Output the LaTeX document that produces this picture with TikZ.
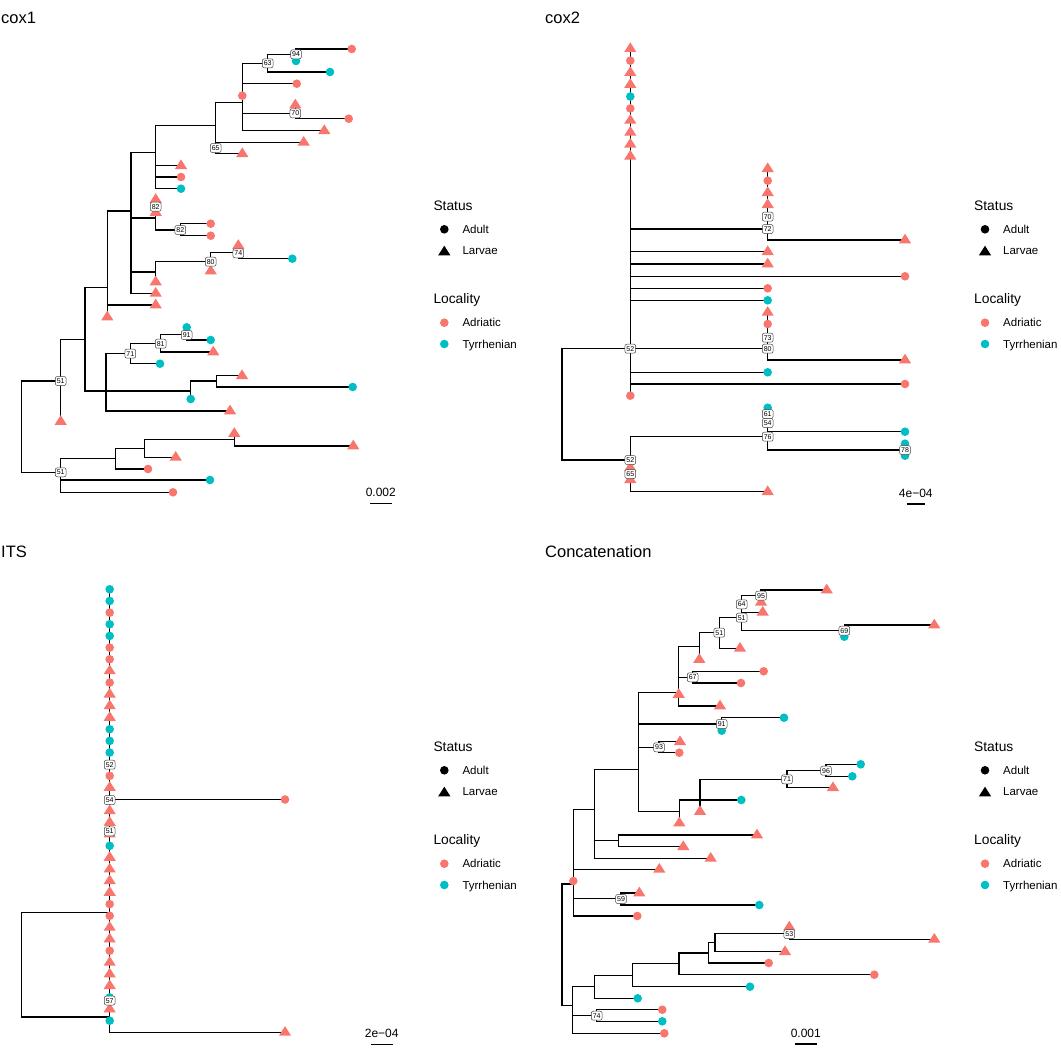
\documentclass[tikz,border=0pt]{standalone}
\usepackage{fontspec}
\setmainfont{Liberation Sans}
\definecolor{adr}{HTML}{F8766D}
\definecolor{tyr}{HTML}{00BFC4}
\newcommand{\adult}[3]{\fill[#1] (#2,#3) circle (4.3pt);}
\newcommand{\larva}[3]{\fill[#1] (#2,#3) ++(0,-6.3) -- ++(6.1,9.6) -- ++(-12.2,0) -- cycle;}
\newcommand{\keybox}[3]{%
 \node[keyttl] (#1st) at (#2,210+#3) {Status};
 \adult{black}{#2+11}{229.3+#3}
 \node[keytxt] (#1ad) at (#2+29,233.4+#3) {Adult};
 \larva{black}{#2+11}{252+#3}
 \node[keytxt] (#1la) at (#2+29,254.8+#3) {Larvae};
 \node[keyttl] (#1lo) at (#2,303.3+#3) {Locality};
 \adult{adr}{#2+11}{322.7+#3}
 \node[keytxt] (#1ar) at (#2+29,326.8+#3) {Adriatic};
 \adult{tyr}{#2+11}{344+#3}
 \node[keytxt] (#1ty) at (#2+29,348.1+#3) {Tyrrhenian};
}

\begin{document}
\begin{tikzpicture}[x=1pt,y=-1pt,
 br/.style={line width=1.25pt,line cap=rect},
 boot/.style={draw=black!75,fill=white,rounded corners=2pt,line width=.5pt,font=\fontsize{7}{8}\selectfont,inner xsep=1.5pt,inner ysep=2pt,text height=5pt,text depth=0pt},
 ttl/.style={anchor=base west,inner sep=0,font=\fontsize{16.5}{18}\selectfont},
 keyttl/.style={anchor=base west,inner sep=0,font=\fontsize{13.8}{15}\selectfont},
 keytxt/.style={anchor=base west,inner sep=0,font=\fontsize{11.5}{13}\selectfont},
 bar/.style={anchor=base,inner sep=0,font=\fontsize{12}{13}\selectfont}]
\useasboundingbox (0,0) rectangle (1061,1049);

\node[ttl] (t1) at (1,24) {cox1};
\node[ttl] (t2) at (545,24) {cox2};
\node[ttl] (t3) at (1,557) {ITS};
\node[ttl] (t4) at (545,557) {Concatenation};

\foreach \x/\a/\b in {296/49/61, 267.7/54.3/72, 242.3/63.3/130.7, 295.3/105/118.7, 215.7/102.7/153.7, 155.7/125.7/188.7, 131/152.7/293.3, 155.7/198.3/230, 180.3/223.7/235.7, 210.7/252.7/270, 238.3/244.3/258.7, 155.7/261.7/281, 107.3/211/316, 85/287.7/391, 106/353.7/411, 130.3/343.3/363.7, 160.7/334.3/352, 186.7/327.3/340, 190.7/381/399, 216.7/375.7/387, 60.7/339.3/420.7, 21.3/381/472.3, 60.7/458.3/492.3, 115.3/448.3/469, 144.3/439.3/457.3, 234.3/432/446}
 \draw[br] (\x,\a) -- (\x,\b);
\foreach \y/\a/\b in {49/296/351.7, 54.3/267.7/296, 72/267.7/330, 63.3/242.3/267.7, 83.7/242.3/296.7, 113.3/242.3/295.3, 118.7/295.3/348.7, 130.7/242.3/324.3, 102.7/215.7/242.3, 142.3/215.7/303.7, 153.7/215.7/242.3, 125.7/155.7/215.7, 165.7/155.7/181, 177/155.7/181, 188.7/155.7/181, 152.7/131/155.7, 218/131/155.7, 230/155.7/180.3, 223.7/180.3/210.7, 235.7/180.3/210.7, 272/131/155.7, 261.7/155.7/210.7, 252.7/210.7/238.3, 258.7/238.3/292.3, 293.3/131/155.7, 211/107.3/131, 305/107.3/155.7, 287.7/85/107.3, 391/85/190.7, 353.7/106/130.3, 343.3/130.3/160.7, 363.7/130.3/160, 334.3/160.7/186.7, 352/160.7/213.3, 340/186.7/210.7, 381/190.7/216.7, 375.7/216.7/242, 387/216.7/352.7, 411/106/230, 339.3/60.7/85, 381/21.3/60.7, 472.3/21.3/60.7, 458.3/60.7/115.3, 480/60.7/210, 492.3/60.7/173, 448.3/115.3/144.3, 469/115.3/148, 439.3/144.3/234.3, 457.3/144.3/175.7, 446/234.3/353.3}
 \draw[br] (\a,\y) -- (\b,\y);
\foreach \x/\y in {351.7/49, 296.7/83.7, 242.3/95.7, 348.7/118.7, 181/177, 210.7/223.7, 210.7/235.7, 148/469, 173/492.3}
 {\adult{adr}{\x}{\y}}
\foreach \x/\y in {296/61, 330/72, 181/188.7, 292.3/258.7, 186.7/327.3, 210.7/340, 160/363.7, 190.7/399, 352.7/387, 210/480}
 {\adult{tyr}{\x}{\y}}
\foreach \x/\y in {295.3/105, 324.3/130.7, 303.7/142.3, 242.3/153.7, 181/165.7, 155.7/199.5, 155.7/212.5, 238.3/245.5, 210.7/271, 155.7/282, 155.7/293.3, 155.7/305, 107.3/317, 213.3/352, 242/375.7, 230/411, 60.7/421.5, 234.3/433.5, 353.3/446, 175.7/457.3}
 {\larva{adr}{\x}{\y}}
\foreach \x/\y/\b [count=\i] in {296/54.3/94, 267.7/63.3/63, 295.3/113.3/70, 215.7/148/65, 155.7/206.7/82, 180.3/230/82, 210.7/261.7/80, 238.3/253.3/74, 186.7/335/91, 160.7/343.7/81, 130.3/353.7/71, 60.7/381/51, 60.7/472.3/51}
 \node[boot] (a\i) at (\x,\y) {\b};
\node[bar] (s1) at (380.8,496.6) {0.002};
\draw[br,line cap=butt] (370,503.3) -- (391.7,503.3);

\foreach \x/\a/\b in {630.3/48.7/395.7, 767.7/168.7/240, 767.7/312.4/360, 562/348.7/460, 630.3/436.7/491.7, 767.7/407.7/450, 905/443.7/455.7}
 \draw[br] (\x,\a) -- (\x,\b);
\foreach \y/\a/\b in {229/630.3/767.7, 240/767.7/905, 251.7/630.3/767.7, 264/630.3/767.7, 276.3/630.3/905, 288.3/630.3/767.7, 300.3/630.3/767.7, 348.7/562/767.7, 360/767.7/905, 372.3/630.3/767.7, 384/630.3/905, 460/562/630.3, 436.7/630.3/767.7, 491.7/630.3/767.7, 431.7/767.7/905, 450/767.7/905}
 \draw[br] (\a,\y) -- (\b,\y);
\foreach \k in {1,5} {\adult{adr}{630.3}{48.7+11.95*\k}}
\foreach \k in {4} {\adult{tyr}{630.3}{48.7+11.95*\k}}
\foreach \k in {0,2,3,6,7,8,9} {\larva{adr}{630.3}{48.7+11.95*\k}}
\foreach \x/\y in {767.7/180.7, 905/276.3, 767.7/288.3, 767.7/324, 905/384, 630.3/395.7}
 {\adult{adr}{\x}{\y}}
\foreach \x/\y in {767.7/300.3, 767.7/372.3, 767.7/407.7, 905/431.7, 905/443.7, 905/455.7}
 {\adult{tyr}{\x}{\y}}
\foreach \x/\y in {767.7/168.7, 767.7/192.7, 767.7/204.7, 905/240, 767.7/251.7, 767.7/264, 767.7/312.4, 905/360, 630.3/467.7, 630.3/479.7, 767.7/491.7}
 {\larva{adr}{\x}{\y}}
\foreach \x/\y/\b [count=\i] in {767.7/216.7/70, 767.7/229/72, 767.7/337.7/73, 767.7/348.7/80, 630.3/348.7/52, 767.7/414/61, 767.7/423/54, 767.7/436.7/76, 905/450/78, 630.3/460/52, 630.3/474/65}
 \node[boot] (b\i) at (\x,\y) {\b};
\node[bar] (s2) at (915.8,497) {4e−04};
\draw[br,line cap=butt] (906.7,504) -- (925,504);

\draw[br] (109.7,589.3) -- (109.7,1032.4);
\draw[br] (21.3,912.3) -- (21.3,1017);
\foreach \y/\a/\b in {799.5/109.7/285, 1032.4/109.7/285, 912.3/21.3/109.7, 1017/21.3/109.7}
 \draw[br] (\a,\y) -- (\b,\y);
\foreach \k in {2,5,6,8,16,27,28,31} {\adult{adr}{109.7}{589.3+11.66*\k}}
\foreach \k in {0,1,3,4,12,13,14,22,35,37} {\adult{tyr}{109.7}{589.3+11.66*\k}}
\foreach \k in {7,9,10,11,17,19,20,21,23,24,25,26,29,30,32,33,34,36} {\larva{adr}{109.7}{589.3+11.66*\k}}
\adult{adr}{285}{799.5}
\larva{adr}{285}{1032.4}
\foreach \x/\y/\b [count=\i] in {109.7/764.7/52, 109.7/800/54, 109.7/831.3/51, 109.7/1000.5/57}
 \node[boot] (c\i) at (\x,\y) {\b};
\node[bar] (s3) at (381.7,1037.6) {2e−04};
\draw[br,line cap=butt] (370.7,1044.3) -- (392.7,1044.3);

\foreach \x/\a/\b in {761/590/602.3, 741.7/595.7/630.7, 844.3/625/636.7, 719.3/617.7/648.3, 699.3/632.7/658.3, 678.7/646.3/706, 692.7/671.3/683, 638.3/692.7/811.7, 721.7/717.7/730.7, 659/741.7/752.7, 787/770.7/787.7, 826/764.3/776.3, 700/779.3/811.5, 679.3/800/823, 594.3/769.3/858.3, 618.3/835/846.7, 573.3/809.3/916, 621/893/905, 562/884/1005.7, 572.3/986.7/1033.3, 596.7/1009.7/1021.3, 594.3/975.7/998.3, 632.7/963.3/986.7, 679/953/974.7, 708.3/942.7/963, 715/933.7/951.7, 789.3/927/939.3}
 \draw[br] (\x,\a) -- (\x,\b);
\foreach \y/\a/\b in {590/761/826.7, 595.7/741.7/761, 612.3/741.7/762.7, 617.7/719.3/741.7, 630.7/741.7/844.3, 625/844.3/934.3, 632.7/699.3/719.3, 648.3/719.3/740, 646.3/678.7/699.3, 677.3/678.7/692.7, 671.3/692.7/763.7, 683/692.7/741, 706/678.7/720, 692.7/638.3/678.7, 724/638.3/721.7, 717.7/721.7/784, 747.3/638.3/659, 741.7/659/680, 752.7/659/679.3, 769.3/594.3/638.3, 779.3/700/787, 787.7/787/833, 770.7/787/826, 764.3/826/860.7, 776.3/826/852.3, 800/679.3/741.3, 811.7/638.3/679.3, 840.7/594.3/618.3, 835/618.3/757, 846.7/618.3/683.3, 858.3/594.3/710.7, 809.3/573.3/594.3, 869.3/573.3/659.3, 898.3/573.3/621, 893/621/639.3, 905/621/759.3, 916/573.3/637.3, 884/562/573.3, 1005.7/562/572.3, 986.7/572.3/594.3, 1015.7/572.3/596.7, 1009.7/596.7/662.3, 1021.3/596.7/662.3, 1033.3/572.3/664.3, 998.3/594.3/637.7, 975.7/594.3/632.7, 986.7/632.7/750, 963.3/632.7/679, 974.7/679/874.3, 953/679/708.3, 963/708.3/768.7, 942.7/708.3/715, 951.7/715/785, 933.7/715/789.3, 939.3/789.3/934.3}
 \draw[br] (\a,\y) -- (\b,\y);
\foreach \x/\y in {763.7/671.3, 741/683, 679.3/752.7, 573.3/881, 637.3/916, 768.7/963, 874.3/974.7, 662.3/1009.7, 664.3/1033.3}
 {\adult{adr}{\x}{\y}}
\foreach \x/\y in {844.3/636.7, 784/717.7, 721.7/730.7, 860.7/764.3, 852.3/776.3, 741.3/800, 759.3/905, 750/986.7, 637.7/998.3, 662.3/1021.3}
 {\adult{tyr}{\x}{\y}}
\foreach \x/\y in {826.7/590, 761/602.3, 762.7/612.3, 934.3/625, 740/648.3, 699.3/659.5, 678.7/694.5, 720/706, 680/741.7, 833/787.7, 700/811.5, 679.3/823, 757/835, 683.3/846.7, 710.7/858.3, 659.3/869.3, 639.3/893, 789.3/927, 934.3/939.3, 785/951.7}
 {\larva{adr}{\x}{\y}}
\foreach \x/\y/\b [count=\i] in {761/595.7/95, 741.7/604.3/64, 741.7/617.7/51, 844.3/630.7/69, 719.3/632.7/51, 692.7/677.3/67, 721.7/724/91, 659/747.3/93, 826/770.7/96, 787/779.3/71, 621/899/59, 789.3/934/53, 596.7/1015.7/74}
 \node[boot] (d\i) at (\x,\y) {\b};
\node[bar] (s4) at (805.8,1037.6) {0.001};
\draw[br,line cap=butt] (795,1044) -- (816.7,1044);

\keybox{k1}{433.3}{0}
\keybox{k2}{974}{0}
\keybox{k3}{433.3}{541}
\keybox{k4}{974}{541}
\end{tikzpicture}
\end{document}
